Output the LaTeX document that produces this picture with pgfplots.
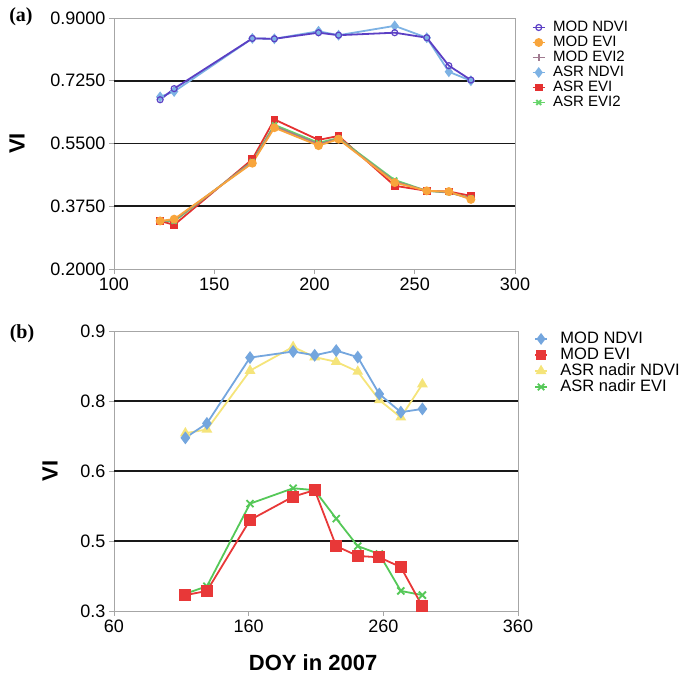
\documentclass[border=0pt]{standalone}
\usepackage{pgfplots}
\pgfplotsset{compat=1.18}
\usepackage{fontspec}
\setmainfont{Liberation Sans}
\newfontfamily\timesfont{Liberation Serif}
\definecolor{cPur}{HTML}{5B3FC4}
\definecolor{cOra}{HTML}{F8A53C}
\definecolor{cMau}{HTML}{A07A90}
\definecolor{cLbl}{HTML}{7DB2E4}
\definecolor{cRed}{HTML}{E53030}
\definecolor{cGrn}{HTML}{66D46A}
\definecolor{bBlu}{HTML}{74A6DE}
\definecolor{bRed}{HTML}{E83838}
\definecolor{bYel}{HTML}{F5E47A}
\definecolor{bGrn}{HTML}{55C858}
\pgfplotsset{
  myaxis/.style={
    scale only axis,
    axis line style={gray!70, line width=0.8pt},
    tick style={gray!70, line width=0.8pt, major tick length=5pt},
    tick align=outside,
    xtick pos=bottom, ytick pos=left,
    tick label style={font=\fontsize{18}{18}\selectfont},
    label style={font=\bfseries\fontsize{22}{22}\selectfont},
    legend style={draw=none, fill=none, inner sep=0pt, outer sep=0pt,
      row sep=0pt, /tikz/every odd column/.append style={column sep=7pt}},
    legend cell align=left,
    legend image code/.code={\draw[mark repeat=2,mark phase=2,##1] plot coordinates {(0pt,0pt) (6pt,0pt) (12pt,0pt)};},
    extra y tick style={grid=major, major grid style={black!90, line width=1.7pt}, tick style={draw=none}},
  },
}
\begin{document}
\begin{tikzpicture}
\path[use as bounding box] (0pt,0pt) rectangle (688pt,679pt);
% ---------- panel (a)
\begin{axis}[myaxis,
  at={(114pt,410pt)}, anchor=south west,
  width=401pt, height=251pt,
  xmin=100, xmax=300, ymin=0.2, ymax=0.9,
  xtick={100,150,200,250,300}, xticklabels={100,150,200,250,300},
  ytick={0.2,0.375,0.55,0.725,0.9},
  yticklabels={0.2000,0.3750,0.5500,0.7250,0.9000},
  extra y ticks={0.375,0.55,0.725}, extra y tick labels={},
  ylabel={VI},
  ylabel style={at={(axis description cs:-0.242,0.5)}, anchor=center, rotate=0},
  legend style={at={(axis description cs:1.042,0.992)}, anchor=north west,
    font=\fontsize{15}{15}\selectfont,
    nodes={inner sep=0.5pt, text height=11pt, text depth=3pt}},
]
\addlegendimage{cPur, line width=1.8pt, mark=o, mark size=3pt, mark options={fill=white, line width=1.2pt}}
\addlegendentry{MOD NDVI}
\addlegendimage{cOra, line width=1.8pt, mark=*, mark size=3.5pt}
\addlegendentry{MOD EVI}
\addlegendimage{cMau, line width=1.8pt, mark=+, mark size=3.5pt}
\addlegendentry{MOD EVI2}
\addlegendimage{cLbl, line width=1.8pt, mark=diamond*, mark size=4pt}
\addlegendentry{ASR NDVI}
\addlegendimage{cRed, line width=1.8pt, mark=square*, mark size=3pt}
\addlegendentry{ASR EVI}
\addlegendimage{cGrn, line width=1.8pt, mark=x, mark size=3.5pt}
\addlegendentry{ASR EVI2}
% data (forget plot, drawn in visual order)
\addplot[forget plot, cLbl, line width=1.8pt, mark=diamond*, mark size=4pt] coordinates {
(123,0.680) (130,0.695) (169,0.843) (180,0.842) (202,0.863) (212,0.852) (240,0.878) (256,0.845) (267,0.750) (278,0.725)};
\addplot[forget plot, cPur, line width=1.8pt, mark=o, mark size=3pt, mark options={fill=white, line width=1.2pt}] coordinates {
(123,0.672) (130,0.703) (169,0.843) (180,0.842) (202,0.859) (212,0.852) (240,0.859) (256,0.845) (267,0.767) (278,0.727)};
\addplot[forget plot, cRed, line width=1.8pt, mark=square*, mark size=3pt] coordinates {
(123,0.334) (130,0.323) (169,0.506) (180,0.617) (202,0.560) (212,0.571) (240,0.432) (256,0.418) (267,0.416) (278,0.404)};
\addplot[forget plot, cGrn, line width=1.8pt, mark=x, mark size=3.5pt] coordinates {
(123,0.334) (130,0.333) (169,0.500) (180,0.602) (202,0.552) (212,0.565) (240,0.448) (256,0.418) (267,0.413) (278,0.398)};
\addplot[forget plot, cMau, line width=1.8pt, mark=+, mark size=3.5pt] coordinates {
(123,0.334) (130,0.336) (169,0.498) (180,0.598) (202,0.548) (212,0.563) (240,0.444) (256,0.418) (267,0.414) (278,0.396)};
\addplot[forget plot, cOra, line width=1.8pt, mark=*, mark size=3.5pt] coordinates {
(123,0.334) (130,0.339) (169,0.495) (180,0.594) (202,0.544) (212,0.562) (240,0.441) (256,0.418) (267,0.416) (278,0.394)};
\end{axis}
\node[font=\timesfont\bfseries\fontsize{20}{20}\selectfont] at (21pt,662pt) {(a)};
% ---------- panel (b)
\begin{axis}[myaxis,
  at={(114pt,68pt)}, anchor=south west,
  width=404pt, height=280pt,
  xmin=60, xmax=360, ymin=0.3, ymax=0.9,
  xtick={60,160,260,360}, xticklabels={60,160,260,360},
  ytick={0.3,0.45,0.6,0.75,0.9},
  yticklabels={0.3,0.5,0.6,0.8,0.9},
  extra y ticks={0.45,0.6,0.75}, extra y tick labels={},
  xlabel={DOY in 2007},
  xlabel style={at={(axis description cs:0.493,-0.186)}, anchor=center},
  ylabel={VI},
  ylabel style={at={(axis description cs:-0.158,0.5)}, anchor=center, rotate=0},
  legend style={at={(axis description cs:1.040,1.0)}, anchor=north west,
    font=\fontsize{16.5}{16.5}\selectfont,
    nodes={inner sep=0.5pt, text height=12pt, text depth=3pt},
    /tikz/every odd column/.append style={column sep=12pt}},
]
\addlegendimage{bBlu, line width=1.8pt, mark=diamond*, mark size=4.5pt}
\addlegendentry{MOD NDVI}
\addlegendimage{bRed, line width=1.8pt, mark=square*, mark size=4pt}
\addlegendentry{MOD EVI}
\addlegendimage{bYel, line width=1.8pt, mark=triangle*, mark size=4.5pt}
\addlegendentry{ASR nadir NDVI}
\addlegendimage{bGrn, line width=1.8pt, mark=x, mark size=4.5pt}
\addlegendentry{ASR nadir EVI}
\addplot[forget plot, bYel, line width=1.8pt, mark=triangle*, mark size=4.5pt] coordinates {
(113,0.681) (129,0.689) (161,0.815) (193,0.866) (209,0.844) (225,0.834) (241,0.813) (257,0.752) (273,0.715) (289,0.786)};
\addplot[forget plot, bBlu, line width=1.8pt, mark=diamond*, mark size=5pt] coordinates {
(113,0.671) (129,0.702) (161,0.843) (193,0.856) (209,0.848) (225,0.858) (241,0.844) (257,0.765) (273,0.726) (289,0.733)};
\addplot[forget plot, bGrn, line width=1.8pt, mark=x, mark size=5pt] coordinates {
(113,0.337) (129,0.353) (161,0.530) (193,0.563) (209,0.559) (225,0.498) (241,0.439) (257,0.422) (273,0.343) (289,0.334)};
\addplot[forget plot, bRed, line width=1.8pt, mark=square*, mark size=5pt] coordinates {
(113,0.334) (129,0.343) (161,0.495) (193,0.545) (209,0.559) (225,0.439) (241,0.418) (257,0.415) (273,0.394) (289,0.310)};
\end{axis}
\node[font=\timesfont\bfseries\fontsize{20}{20}\selectfont] at (22pt,345pt) {(b)};
\end{tikzpicture}
\end{document}
